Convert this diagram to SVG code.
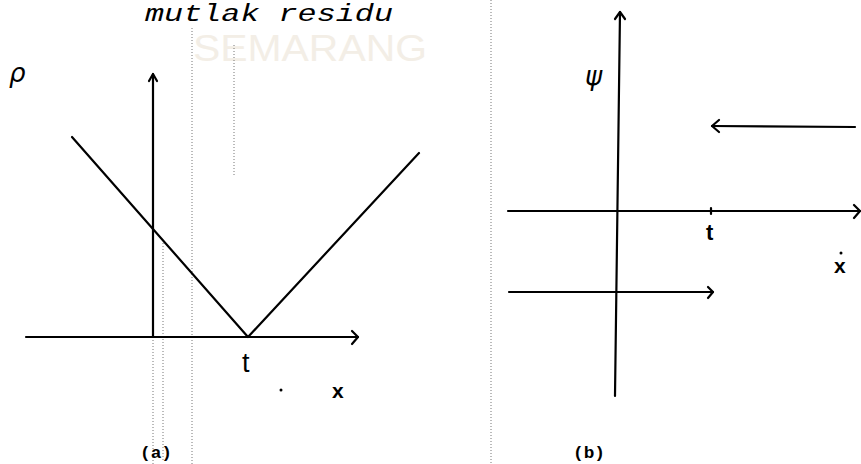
<svg xmlns="http://www.w3.org/2000/svg" width="861" height="464" viewBox="0 0 861 464">
<style>
.ax{stroke:#000;stroke-width:2.2;fill:none;stroke-linecap:round;stroke-linejoin:round}
.dot{stroke:#777;stroke-width:1;stroke-dasharray:1 2;fill:none}
.lbl{font-family:"Liberation Sans",Arial,sans-serif;fill:#000}
.gk{font-family:"DejaVu Sans","Liberation Sans",sans-serif;font-style:italic;fill:#000}
.cap{font-family:"Liberation Mono","Courier New",monospace;font-weight:bold;fill:#000}
</style>
<rect width="861" height="464" fill="#fff"/>
<g id="watermark">
<text x="193" y="61" font-family="Liberation Sans,Arial,sans-serif" font-size="37" fill="#f3eee6" textLength="234" lengthAdjust="spacingAndGlyphs">SEMARANG</text>
</g>
<g id="title">
<text x="145" y="21" font-family="Liberation Mono,'Courier New',monospace" font-style="italic" font-size="24" fill="#000" textLength="248" lengthAdjust="spacingAndGlyphs">mutlak residu</text>
</g>
<g id="guides">
<line class="dot" x1="192" y1="28" x2="192" y2="464"/>
<line class="dot" x1="153" y1="340" x2="153" y2="464"/>
<line class="dot" x1="163" y1="240" x2="163" y2="460" stroke-dasharray="1 5" stroke="#aaa"/>
<line class="dot" x1="234" y1="45" x2="234" y2="175" stroke-dasharray="1 6"/>
<line class="dot" x1="491" y1="0" x2="491" y2="464" stroke-dasharray="2 1"/>
</g>
<g id="panel-a">
<g id="a-axes" class="connectors">
<line class="ax" x1="26" y1="337" x2="358" y2="337"/>
<polyline class="ax" points="352,331 358,337 352,344"/>
<line class="ax" x1="153" y1="74" x2="153" y2="337"/>
<polyline class="ax" points="149,81 153,74 157,81"/>
</g>
<g id="a-curve">
<polyline class="ax" points="72,137 248,337 419,153"/>
</g>
<g id="a-labels">
<text class="gk" x="9" y="82" font-size="26">ρ</text>
<text class="lbl" x="242" y="372" font-size="27">t</text>
<text class="lbl" x="332" y="398" font-size="21" font-weight="bold">x</text>
<circle cx="281" cy="390" r="1.5" fill="#000"/>
<text class="cap" x="140" y="458" font-size="17" textLength="32" lengthAdjust="spacingAndGlyphs">(a)</text>
</g>
</g>
<g id="panel-b">
<g id="b-axes" class="connectors">
<line class="ax" x1="508" y1="211" x2="860" y2="211"/>
<polyline class="ax" points="854,205 860,211 854,218"/>
<line class="ax" x1="620" y1="12" x2="615" y2="396"/>
<polyline class="ax" points="615,19 620,12 625,19"/>
<line class="ax" x1="711" y1="208" x2="711" y2="214"/>
</g>
<g id="b-upper-arrow">
<line class="ax" x1="855" y1="127" x2="712" y2="126"/>
<polyline class="ax" points="719,120 712,126 719,132"/>
</g>
<g id="b-lower-arrow">
<line class="ax" x1="509" y1="292" x2="713" y2="292"/>
<polyline class="ax" points="708,287 713,292 708,298"/>
</g>
<g id="b-labels">
<text class="gk" x="585" y="85" font-size="26">ψ</text>
<text class="lbl" x="706" y="240" font-size="22" font-weight="bold">t</text>
<text class="lbl" x="834" y="273" font-size="21" font-weight="bold">x</text>
<circle cx="841" cy="253" r="1.5" fill="#000"/>
<text class="cap" x="573" y="458" font-size="17" textLength="32" lengthAdjust="spacingAndGlyphs">(b)</text>
</g>
</g>
</svg>
